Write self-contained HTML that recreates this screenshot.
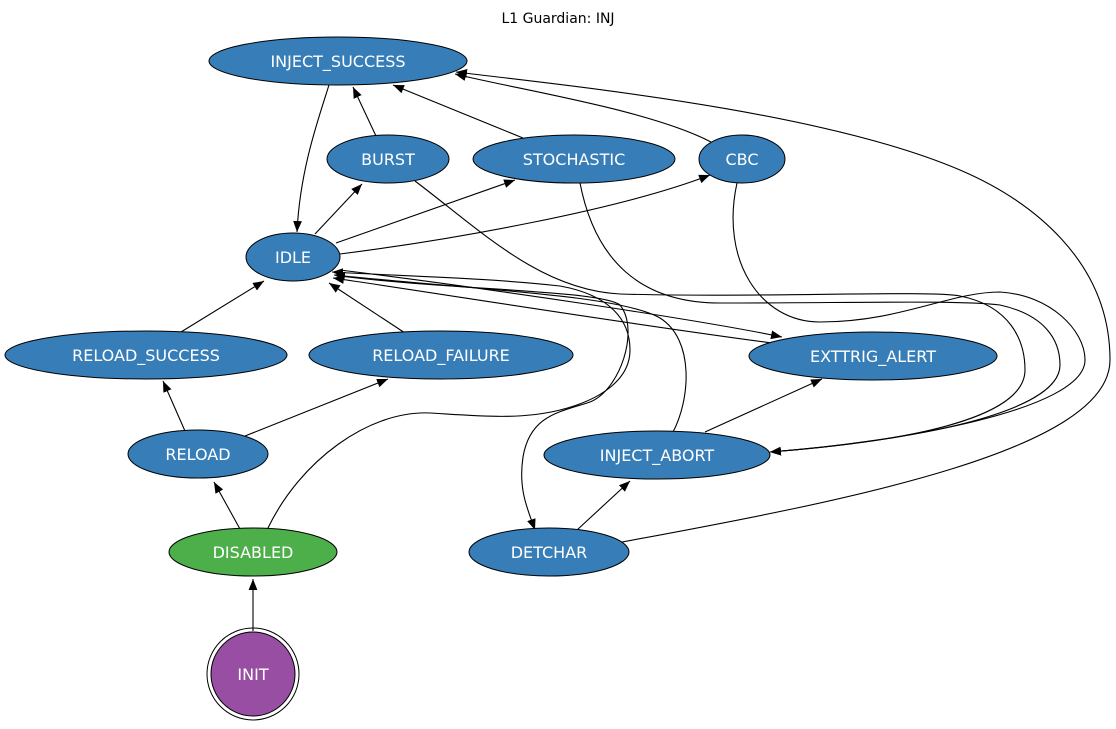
<!DOCTYPE html>
<html><head><meta charset="utf-8"><style>
html,body{margin:0;padding:0;background:#fff;}
svg{display:block;}
text{font-family:"DejaVu Sans","Liberation Sans",sans-serif;}
</style></head><body>
<svg width="1116" height="729" viewBox="0 0 1116 729" xmlns="http://www.w3.org/2000/svg">
<defs>
<marker id="a" viewBox="0 0 10 10" refX="10" refY="5" markerWidth="11" markerHeight="11" markerUnits="userSpaceOnUse" orient="auto">
<path d="M0,1 L10,5 L0,9 z" fill="#000"/>
</marker>
</defs>
<text x="558" y="23" text-anchor="middle" font-size="14" fill="#000">L1 Guardian: INJ</text>
<g fill="none" stroke="#000" stroke-width="1.1" marker-end="url(#a)">
<path d="M329,85 C318,120 300,170 297,232"/>
<path d="M376,136 L353,87"/>
<path d="M523,138 L393,85"/>
<path d="M711,142 C650,110 520,90 455,74"/>
<path d="M622,542 C850,500 1110,450 1110,360 C1110,260 1030,200 960,170 C820,110 560,85 456,72"/>
<path d="M315,234 L362,184"/>
<path d="M336,243 L515,180"/>
<path d="M340,254 C450,240 620,210 710,175"/>
<path d="M181,332 L264,281"/>
<path d="M405,333 L329,283"/>
<path d="M185,431 L163,381"/>
<path d="M245,436 L388,379"/>
<path d="M240,529 L214,482"/>
<path d="M253,631 L253,579"/>
<path d="M267,530 C300,460 370,410 430,413 C480,416 520,420 560,410 C600,400 630,380 630,350 C630,320 610,295 560,286 C490,278 400,276 332,272"/>
<path d="M340,276 C450,290 600,290 620,305 C640,330 620,390 590,402 C560,412 530,415 523,457 C518,490 528,510 535,530"/>
<path d="M673,432 C690,400 695,340 660,318 C620,295 480,290 334,275"/>
<path d="M340,270 C500,290 700,320 782,337"/>
<path d="M772,343 C600,320 450,295 333,278"/>
<path d="M705,432 L822,379"/>
<path d="M577,530 L630,481"/>
<path d="M415,181 C480,230 540,290 620,294 C760,298 930,290 960,296 C1010,306 1025,340 1025,370 C1025,420 900,442 770,452"/>
<path d="M580,183 C595,260 640,303 720,303 C850,303 960,300 1000,305 C1045,315 1060,340 1060,365 C1060,415 900,442 770,452"/>
<path d="M737,183 C720,260 760,322 820,322 C900,322 950,292 1000,292 C1050,295 1085,330 1085,360 C1085,410 900,442 770,452"/>
</g>
<g stroke="#000" stroke-width="1">
<ellipse cx="338" cy="61" rx="129" ry="24" fill="#377eb8"/>
<ellipse cx="388" cy="159" rx="61" ry="24" fill="#377eb8"/>
<ellipse cx="574" cy="159" rx="101" ry="24" fill="#377eb8"/>
<ellipse cx="742" cy="159" rx="43" ry="24" fill="#377eb8"/>
<ellipse cx="293" cy="257" rx="47" ry="24" fill="#377eb8"/>
<ellipse cx="146" cy="355" rx="141" ry="24" fill="#377eb8"/>
<ellipse cx="441" cy="355" rx="132" ry="24" fill="#377eb8"/>
<ellipse cx="873" cy="356" rx="124" ry="24" fill="#377eb8"/>
<ellipse cx="198" cy="454" rx="70" ry="24" fill="#377eb8"/>
<ellipse cx="657" cy="455" rx="113" ry="24" fill="#377eb8"/>
<ellipse cx="253" cy="552" rx="84" ry="24" fill="#4daf4a"/>
<ellipse cx="549" cy="552" rx="80" ry="24" fill="#377eb8"/>
<circle cx="253" cy="674" r="46" fill="none"/>
<circle cx="253" cy="674" r="42" fill="#984ea3"/>
</g>
<g fill="#fff" font-size="16" text-anchor="middle">
<text x="338" y="67">INJECT_SUCCESS</text>
<text x="388" y="165">BURST</text>
<text x="574" y="165">STOCHASTIC</text>
<text x="742" y="165">CBC</text>
<text x="293" y="263">IDLE</text>
<text x="146" y="361">RELOAD_SUCCESS</text>
<text x="441" y="361">RELOAD_FAILURE</text>
<text x="873" y="362">EXTTRIG_ALERT</text>
<text x="198" y="460">RELOAD</text>
<text x="657" y="461">INJECT_ABORT</text>
<text x="253" y="558">DISABLED</text>
<text x="549" y="558">DETCHAR</text>
<text x="253" y="680">INIT</text>
</g>
</svg>
</body></html>
